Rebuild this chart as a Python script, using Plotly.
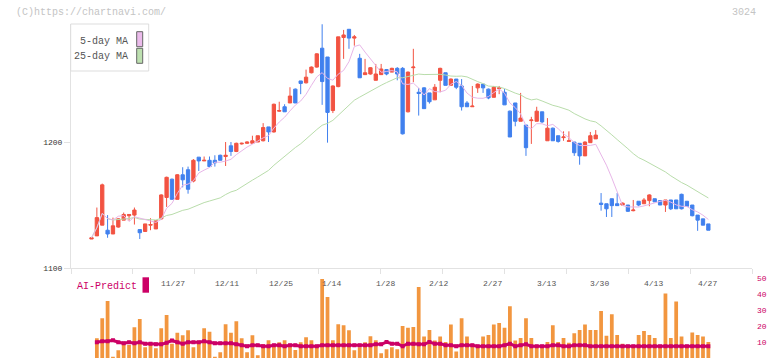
import plotly.graph_objects as go
import pandas as pd

# ---------------- data ----------------
open_ = [1123, 1125.5, 1134, 1130, 1127, 1132.5, 1138, 1141.5, 1142, 1130.5,
         1129, 1134, 1131, 1139, 1156, 1170.5, 1154.5, 1174, 1178, 1169,
         1188, 1185, 1185.5, 1185.5, 1189.5, 1188.5, 1197, 1192.5, 1198.5, 1199,
         1199, 1200, 1201, 1212, 1208, 1224.5, 1228, 1231, 1242, 1248.5,
         1247, 1255, 1259.5, 1274.5, 1267.5, 1225, 1244, 1283, 1289.5, 1282.5,
         1266.5, 1253.5, 1254, 1249, 1253.5, 1257.5, 1255.5, 1258.5, 1258.5, 1224,
         1259, 1239.5, 1243, 1239, 1233.5, 1249, 1255, 1245, 1250, 1244.5,
         1231, 1228, 1243, 1246, 1242, 1235.5, 1242.5, 1239.5, 1224.5, 1231,
         1216.5, 1213.5, 1217, 1216.5, 1224, 1201, 1211, 1205, 1203.5, 1200.5,
         1200, 1199, 1189, 1199.5, 1202.5, 1151.5, 1151, 1155, 1151, 1150,
         1150, 1145.5, 1153, 1151, 1153.5, 1155, 1153.5, 1150, 1154, 1154,
         1158.5, 1153, 1150, 1142, 1139, 1135]
high = [1124, 1148, 1167, 1142, 1140, 1139.5, 1144, 1142.5, 1148, 1130.5,
        1135, 1139.5, 1137.5, 1158.5, 1172.5, 1171, 1174.5, 1180, 1180.5, 1186.5,
        1188, 1188.5, 1188.5, 1189.5, 1190, 1200, 1200, 1199.5, 1199.5, 1200.5,
        1205, 1205, 1215, 1212, 1230.5, 1232, 1230, 1243.5, 1242.5, 1248.5,
        1257.5, 1260, 1270.5, 1293.5, 1267.5, 1245, 1283.5, 1289, 1289.5, 1285,
        1270, 1266, 1259.5, 1262, 1262, 1258, 1259, 1259.5, 1259.5, 1256,
        1274, 1243, 1243.5, 1239, 1246, 1259, 1255, 1250.5, 1250, 1250,
        1232.5, 1244.5, 1246.5, 1246, 1242.5, 1244.5, 1244.5, 1242, 1225, 1231,
        1239, 1213.5, 1220, 1228, 1224, 1219, 1211.5, 1205, 1208.5, 1208.5,
        1200, 1199, 1200.5, 1208, 1209.5, 1159.5, 1151, 1155, 1159.5, 1152,
        1150, 1154, 1153, 1155.5, 1158.5, 1155, 1153.5, 1154, 1154, 1154,
        1159, 1153, 1150, 1142, 1139, 1135]
low = [1123, 1125.5, 1134, 1124, 1127, 1132, 1138, 1137.5, 1134.5, 1123,
       1129, 1130, 1131, 1138.5, 1148.5, 1154.5, 1154.5, 1164, 1159, 1168,
       1177, 1185, 1180, 1180.5, 1185.5, 1181, 1189, 1192, 1198, 1198.5,
       1199, 1200, 1200.5, 1200, 1207.5, 1224, 1224, 1231, 1231, 1238,
       1246.5, 1254.5, 1259, 1229.5, 1199.5, 1223, 1243.5, 1266, 1274, 1276.5,
       1251, 1253.5, 1253.5, 1249, 1253.5, 1253, 1255.5, 1249, 1206, 1223.5,
       1247.5, 1221, 1226.5, 1230.5, 1233.5, 1239.5, 1245, 1245, 1242, 1225,
       1228, 1228, 1239, 1239, 1234, 1235.5, 1238, 1229.5, 1204, 1212.5,
       1216.5, 1189, 1198.5, 1216.5, 1215, 1201, 1201, 1199.5, 1201, 1200.5,
       1189, 1182, 1189, 1199.5, 1202.5, 1145.5, 1140.5, 1140.5, 1149.5, 1150,
       1144.5, 1145, 1149, 1151, 1149, 1152.5, 1150, 1144.5, 1146, 1147,
       1146.5, 1149, 1141, 1129.5, 1134, 1130]
close = [1124, 1140, 1166, 1127, 1133.5, 1139, 1142.5, 1142.5, 1146, 1128,
         1135, 1134.5, 1137.5, 1158, 1172, 1154.5, 1174, 1170, 1162.5, 1185.5,
         1185, 1185.5, 1180.5, 1183.5, 1185.5, 1189.5, 1192.5, 1199, 1199, 1200,
         1201, 1205, 1211.5, 1208, 1230, 1225, 1224, 1236.5, 1231, 1246.5,
         1251.5, 1259.5, 1270, 1248, 1223.5, 1244.5, 1283.5, 1285, 1282.5, 1283.5,
         1251, 1255, 1259, 1254, 1258, 1254, 1258.5, 1254, 1206.5, 1255.5,
         1259.5, 1238.5, 1226.5, 1232, 1243.5, 1258.5, 1245, 1250, 1243.5, 1228,
         1228, 1228.5, 1246, 1243, 1235, 1243.5, 1243, 1229.5, 1204, 1216.5,
         1219, 1195.5, 1217.5, 1224.5, 1216, 1211, 1201, 1200.5, 1204, 1201,
         1191.5, 1189, 1200, 1205, 1205.5, 1150.5, 1147, 1149.5, 1149.5, 1151.5,
         1145, 1146, 1150, 1154, 1158, 1152.5, 1150, 1154, 1147, 1147,
         1147, 1149, 1141.5, 1138, 1134, 1130]
volume = [None, 12.4, 25.0, 35.7, 0.8, 4.8, 9.0, 8.2, 19.3, 24.4,
          6.7, 8.6, 6.1, 18.7, 26.9, 9.0, 15.8, 14.3, 17.4, 6.7,
          9.0, 18.7, 16.4, 0.8, 3.6, 21.2, 15.8, 23.1, 12.4, 3.6,
          14.3, 1.7, 8.6, 11.1, 6.9, 9.9, 11.1, 7.4, 5.0, 9.9,
          13.0, 11.1, 7.4, 49.6, 38.2, 11.1, 21.2, 20.6, 17.4, 4.8,
          6.7, 9.9, 13.7, 11.1, 3.0, 5.5, 6.7, 5.5, 20.0, 19.0,
          19.5, 44.5, 13.5, 17.5, 11.0, 13.5, 10.0, 21.0, 4.0, 25.0,
          13.5, 8.0, 7.0, 13.5, 14.5, 21.0, 22.0, 19.0, 32.5, 11.0,
          12.5, 25.0, 12.5, 7.5, 8.0, 10.0, 20.5, 10.0, 12.5, 9.5,
          15.5, 17.5, 21.0, 17.5, 17.5, 29.5, 14.0, 27.5, 14.5, 9.0,
          8.0, 8.0, 14.5, 17.0, 14.5, 12.5, 8.0, 40.5, 12.5, 35.5,
          13.5, 8.0, 16.0, 14.5, 13.5, 10.0]
ai_predict = [None, 9.9, 10.5, 10.5, 11.1, 9.9, 9.2, 9.9, 9.2, 9.9,
              9.0, 9.0, 8.6, 8.6, 9.5, 11.0, 9.9, 9.0, 9.9, 9.9,
              9.9, 10.5, 9.9, 9.2, 9.2, 9.2, 9.2, 8.6, 8.0, 7.4,
              8.0, 8.0, 7.4, 7.4, 8.0, 8.0, 7.4, 8.0, 8.0, 7.4,
              7.4, 7.4, 7.4, 8.0, 8.0, 8.0, 8.0, 8.0, 8.0, 8.0,
              8.0, 8.0, 8.0, 8.6, 8.6, 10.0, 9.0, 9.0, 7.4, 9.0,
              9.0, 8.6, 8.6, 10.0, 9.0, 9.0, 8.0, 8.0, 7.4, 8.0,
              8.0, 8.0, 7.4, 7.4, 7.4, 7.4, 7.4, 8.0, 9.0, 7.4,
              8.0, 8.6, 7.4, 7.4, 7.4, 7.4, 8.0, 8.0, 7.4, 7.4,
              8.0, 8.0, 8.0, 7.4, 7.4, 7.4, 7.4, 7.4, 7.4, 7.4,
              7.4, 7.4, 7.4, 7.4, 7.4, 7.4, 7.4, 7.4, 7.4, 7.4,
              7.4, 7.4, 7.4, 7.4, 7.4, 7.4]
date_labels = ["11/27", "12/11", "12/25", "1/14", "1/28", "2/12",
               "2/27", "3/13", "3/30", "4/13", "4/27"]
date_label_index = [13, 23, 33, 43, 53, 63, 73, 83, 93, 103, 113]
price_ticks = [1100, 1200]
volume_ticks = [0, 10, 20, 30, 40, 50]

# ---------------- styling ----------------
RED = "#F25342"
BLUE = "#4080EE"
PINK = "#E8B6E8"
GREEN = "#B9DDAB"
ORANGE = "#F2963F"
MAG = "#CC0066"
AXC = "#E2E2E2"
FONT = "Liberation Mono"

W, H = 772, 361
L, R, T, B = 71, 752, 24, 358          # plot area in pixels


def px_x(px):
    return (px - L) / (R - L)


def px_y(py):
    return (B - py) / (B - T)


idx = list(range(len(close)))
s = pd.Series(close)
ma5 = s.rolling(5, min_periods=1).mean()
ma25 = s.rolling(25, min_periods=1).mean()

# x scale: candle 0 at pixel 91.5, 5.364 px per trading day
x0_px, step_px = 91.5, 5.364
x_lo = (L - x0_px) / step_px
x_hi = (R - x0_px) / step_px
n_div = 11
x_ticks = [x_lo + k * (x_hi - x_lo) / n_div for k in range(n_div + 1)]

fig = go.Figure()
fig.add_trace(go.Scatter(x=idx, y=ma25, mode="lines", line=dict(color=GREEN, width=1),
                         xaxis="x", yaxis="y", hoverinfo="skip", showlegend=False))
fig.add_trace(go.Scatter(x=idx, y=ma5, mode="lines", line=dict(color=PINK, width=1),
                         xaxis="x", yaxis="y", hoverinfo="skip", showlegend=False))
fig.add_trace(go.Candlestick(
    x=idx, open=open_, high=high, low=low, close=close,
    increasing=dict(line=dict(color=RED, width=1), fillcolor=RED),
    decreasing=dict(line=dict(color=BLUE, width=1), fillcolor=BLUE),
    whiskerwidth=0, xaxis="x", yaxis="y", showlegend=False, hoverinfo="skip"))
fig.add_trace(go.Bar(x=idx, y=volume, marker=dict(color=ORANGE, line=dict(width=0)),
                     width=0.7, xaxis="x2", yaxis="y2", showlegend=False, hoverinfo="skip"))
fig.add_trace(go.Scatter(x=idx, y=ai_predict, mode="lines+markers",
                         line=dict(color=MAG, width=3),
                         marker=dict(symbol="square", size=4, color=MAG),
                         xaxis="x2", yaxis="y2", showlegend=False, hoverinfo="skip"))

upper_bottom = px_y(268)
lower_top = px_y(278.3)

annotations = []
for lab, i in zip(date_labels, date_label_index):
    annotations.append(dict(x=i, y=px_y(283.5), xref="x", yref="paper", text=lab,
                            showarrow=False, xanchor="left", yanchor="middle",
                            xshift=-2, font=dict(family=FONT, size=8, color="#555555")))
annotations += [
    dict(x=px_x(14), y=px_y(12.5), xref="paper", yref="paper",
         text="(C)https://chartnavi.com/", showarrow=False, xanchor="left",
         yanchor="middle", font=dict(family=FONT, size=10, color="#C4C4C4")),
    dict(x=px_x(758), y=px_y(12.5), xref="paper", yref="paper", text="3024",
         showarrow=False, xanchor="right", yanchor="middle",
         font=dict(family=FONT, size=10, color="#C4C4C4")),
    dict(x=px_x(130), y=px_y(41.5), xref="paper", yref="paper", text="5-day MA",
         showarrow=False, xanchor="right", yanchor="middle",
         font=dict(family=FONT, size=10, color="#555555")),
    dict(x=px_x(130), y=px_y(56.5), xref="paper", yref="paper", text="25-day MA",
         showarrow=False, xanchor="right", yanchor="middle",
         font=dict(family=FONT, size=10, color="#555555")),
    dict(x=px_x(75), y=px_y(286), xref="paper", yref="paper", text="AI-Predict",
         showarrow=False, xanchor="left", yanchor="middle",
         font=dict(family=FONT, size=10, color=MAG)),
]

shapes = [
    dict(type="rect", xref="paper", yref="paper", x0=px_x(70.7), x1=px_x(148.7),
         y0=px_y(71), y1=px_y(24), line=dict(color="#DDDDDD", width=1),
         fillcolor="white", layer="above"),
    dict(type="rect", xref="paper", yref="paper", x0=px_x(136.7), x1=px_x(142.7),
         y0=px_y(46.7), y1=px_y(31.7), line=dict(color="#666666", width=1),
         fillcolor="#EBBBEB", layer="above"),
    dict(type="rect", xref="paper", yref="paper", x0=px_x(136.7), x1=px_x(142.7),
         y0=px_y(63.3), y1=px_y(48.3), line=dict(color="#666666", width=1),
         fillcolor="#BDE0B0", layer="above"),
    dict(type="rect", xref="paper", yref="paper", x0=px_x(142.5), x1=px_x(149),
         y0=px_y(292.7), y1=px_y(277.3), line=dict(width=0),
         fillcolor=MAG, layer="above"),
]

fig.update_layout(
    width=W, height=H,
    margin=dict(l=L, r=W - R, t=T, b=H - B, pad=0, autoexpand=False),
    paper_bgcolor="white", plot_bgcolor="white",
    boxgap=0.12,
    bargap=0.3,
    xaxis=dict(domain=[0, 1], range=[x_lo, x_hi], anchor="y", automargin=False,
               showline=True, linecolor=AXC, linewidth=1,
               ticks="outside", ticklen=5, tickcolor=AXC, tickwidth=1,
               tickvals=x_ticks, showticklabels=False, showgrid=False,
               zeroline=False, rangeslider=dict(visible=False), fixedrange=True),
    yaxis=dict(domain=[upper_bottom, 1], range=[1100, 1293.7], anchor="x",
               automargin=False,
               showline=True, linecolor=AXC, linewidth=1,
               ticks="outside", ticklen=6, tickcolor=AXC, tickwidth=1,
               tickvals=price_ticks, ticktext=[str(v) for v in price_ticks],
               tickfont=dict(family=FONT, size=8, color="#333333"),
               showgrid=False, zeroline=False),
    xaxis2=dict(domain=[0, 1], range=[x_lo, x_hi], anchor="y2", matches="x",
                visible=False, automargin=False),
    yaxis2=dict(domain=[0, lower_top], range=[0, 50], anchor="x2", side="right",
                automargin=False,
                showline=False, ticks="", tickvals=volume_ticks,
                ticklabelstandoff=4,
                tickfont=dict(family=FONT, size=8, color=MAG),
                showgrid=False, zeroline=False),
    annotations=annotations,
    shapes=shapes,
)

fig.write_html("out.html", config={"staticPlot": True},
               post_script="document.body.style.margin='0';document.body.style.padding='0';")
